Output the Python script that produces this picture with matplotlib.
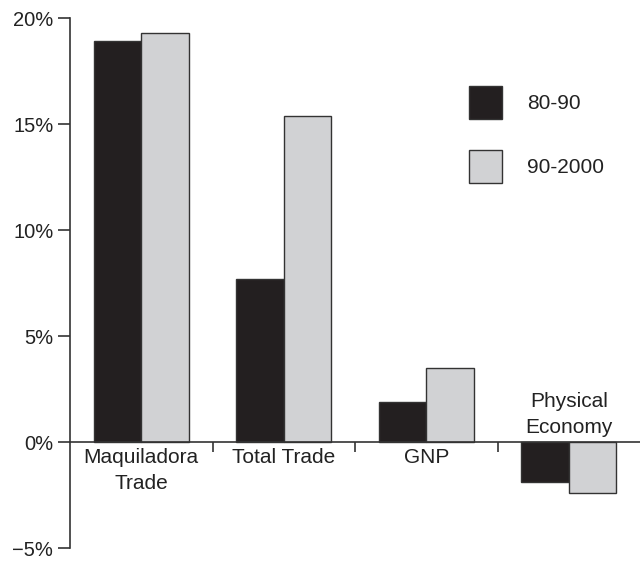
import matplotlib
matplotlib.use("Agg")
import matplotlib.pyplot as plt
from matplotlib.patches import Patch
import numpy as np

plt.rcParams['font.family'] = ['Liberation Sans', 'DejaVu Sans']

categories = ["Maquiladora\nTrade", "Total Trade", "GNP", "Physical\nEconomy"]
series_names = ["80-90", "90-2000"]
values_80_90 = [18.9, 7.7, 1.9, -1.9]
values_90_2000 = [19.3, 15.4, 3.5, -2.4]
yticks = [-5, 0, 5, 10, 15, 20]
ytick_labels = ["\u22125%", "0%", "5%", "10%", "15%", "20%"]

dark = "#231f20"
light = "#d1d2d4"
edge = "#333333"
textc = "#222222"

fig = plt.figure(figsize=(6.4, 5.82), dpi=100)
ax = fig.add_axes([70/640, 34/582, 570/640, 530/582])

x = np.arange(len(categories))
w = 0.335
ax.bar(x - w/2, values_80_90, width=w, color=dark, edgecolor=edge, linewidth=1.0, zorder=3)
ax.bar(x + w/2, values_90_2000, width=w, color=light, edgecolor=edge, linewidth=1.0, zorder=3)

ax.set_xlim(-0.5, 3.5)
ax.set_ylim(-5, 20)

ax.spines['top'].set_visible(False)
ax.spines['right'].set_visible(False)
ax.spines['left'].set_linewidth(1.2)
ax.spines['left'].set_color(edge)
ax.spines['bottom'].set_position(('data', 0))
ax.spines['bottom'].set_linewidth(1.2)
ax.spines['bottom'].set_color(edge)
ax.spines['bottom'].set_zorder(4)

ax.set_yticks(yticks)
ax.set_yticklabels(ytick_labels)
ax.tick_params(axis='y', direction='out', length=9, width=1.2, color=edge, labelsize=14.5, pad=3, labelcolor=textc)

ax.set_xticks([0.5, 1.5, 2.5])
ax.set_xticklabels([])
ax.tick_params(axis='x', direction='out', length=7, width=1.2, color=edge)

for i, cat in enumerate(categories):
    if values_80_90[i] >= 0:
        ax.text(x[i], -0.3, cat, ha='center', va='top', fontsize=15, color=textc, linespacing=1.45)
    else:
        ax.text(x[i], 0.25, cat, ha='center', va='bottom', fontsize=15, color=textc, linespacing=1.45)

handles = [Patch(facecolor=dark, edgecolor=edge, linewidth=1.0),
           Patch(facecolor=light, edgecolor=edge, linewidth=1.0)]
ax.legend(handles, series_names, loc='upper left', bbox_to_anchor=(0.70, 0.872),
          frameon=False, fontsize=15, handlelength=1.58, handleheight=2.06,
          handletextpad=1.2, labelspacing=1.48, borderpad=0, borderaxespad=0,
          labelcolor=textc)

fig.savefig("out.png", dpi=100)
